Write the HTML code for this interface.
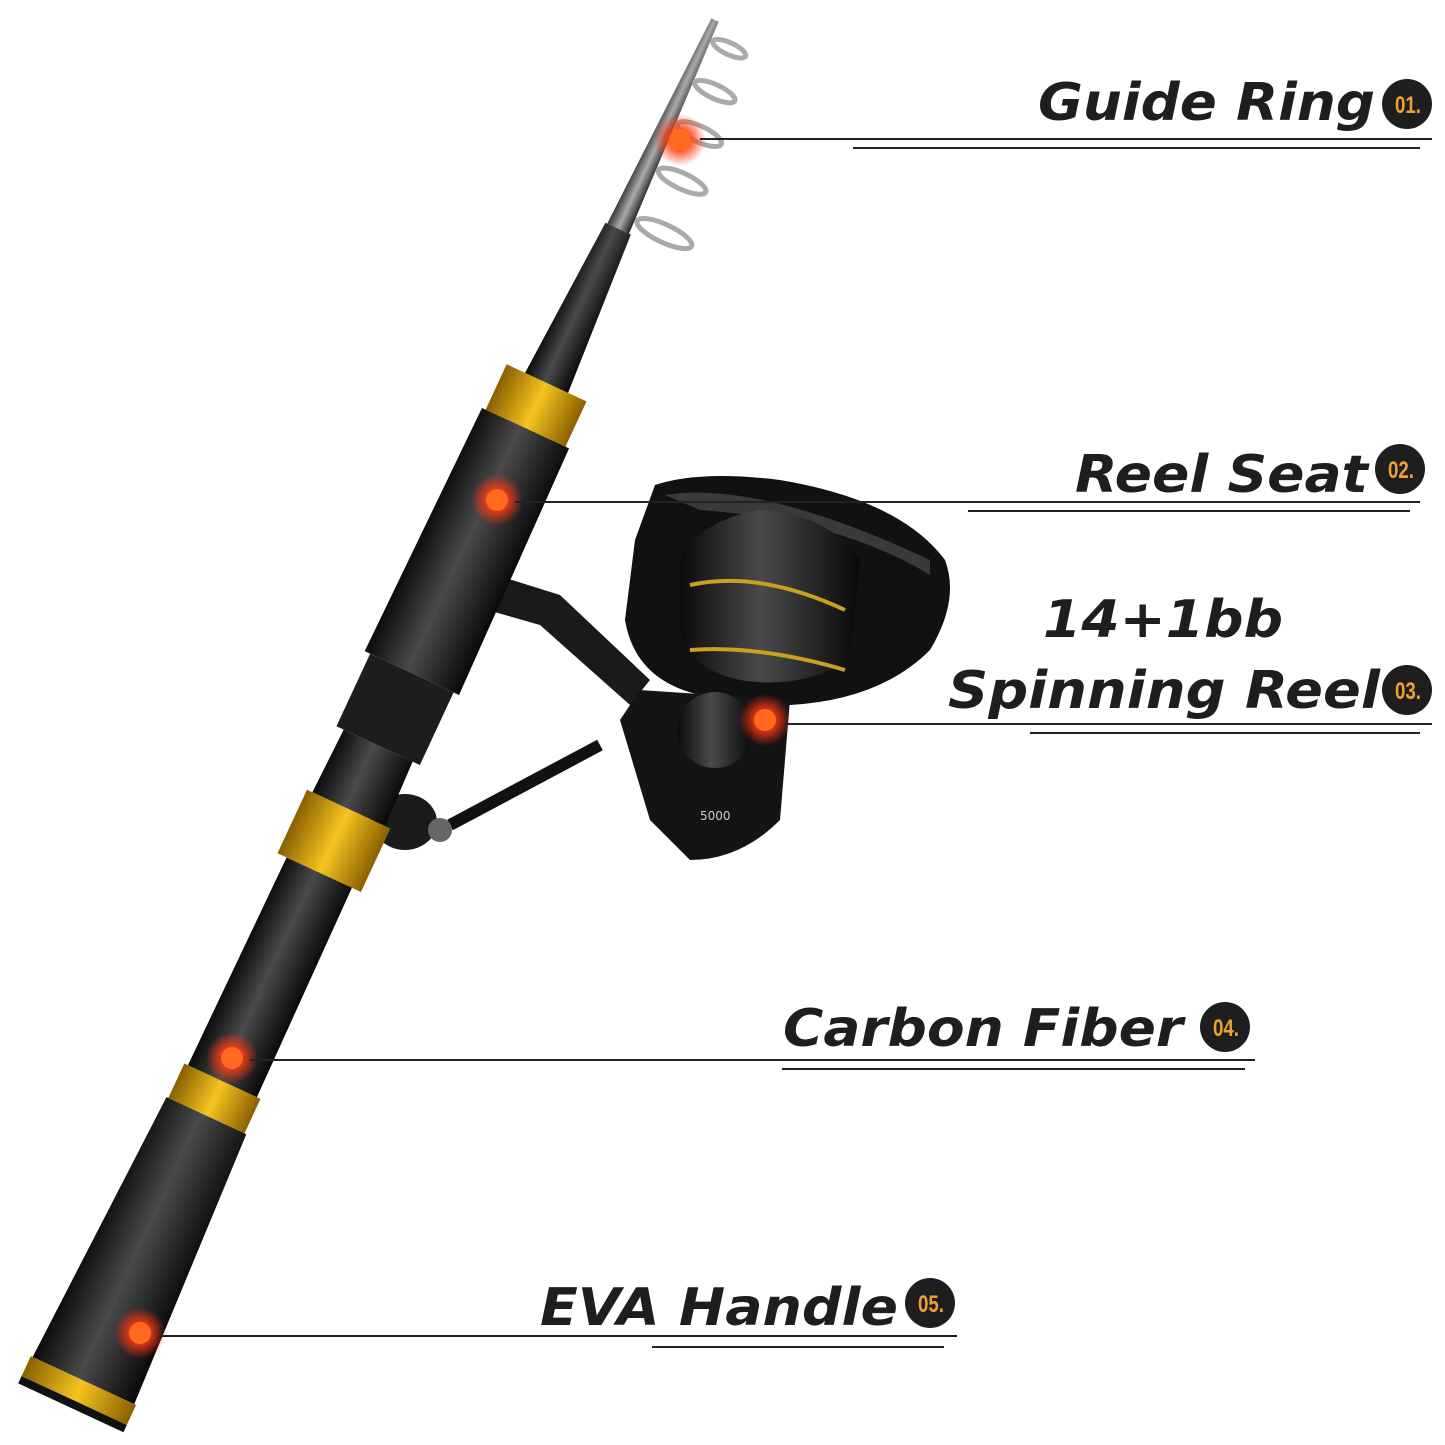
<!DOCTYPE html><html><head><style>
html,body{margin:0;padding:0;background:#fff}
svg{display:block}
text{font-family:"DejaVu Sans","Liberation Sans",sans-serif}
.l{font-size:52px;font-weight:bold;font-style:italic;fill:#1e1e1e}
.b{font-size:24px;font-weight:bold;fill:#f0a030;font-family:"Liberation Sans",sans-serif}
</style></head><body>
<svg width="1445" height="1445" viewBox="0 0 1445 1445">
<defs>
<radialGradient id="g"><stop offset="0" stop-color="#ff5a10"/><stop offset=".45" stop-color="#ff3a10" stop-opacity=".8"/><stop offset="1" stop-color="#ff3010" stop-opacity="0"/></radialGradient>
<linearGradient id="gold" x1="0" x2="1"><stop offset="0" stop-color="#8a6000"/><stop offset=".5" stop-color="#f5c420"/><stop offset="1" stop-color="#8a6000"/></linearGradient>
<linearGradient id="blk" x1="0" x2="1"><stop offset="0" stop-color="#0a0a0a"/><stop offset=".45" stop-color="#4a4a4a"/><stop offset="1" stop-color="#080808"/></linearGradient>
<linearGradient id="gry" x1="0" x2="1"><stop offset="0" stop-color="#333"/><stop offset=".5" stop-color="#aaa"/><stop offset="1" stop-color="#222"/></linearGradient>
</defs>
<!-- reel -->
<g>
<path d="M480 570 L560 595 L650 680 L630 705 L540 625 L470 605Z" fill="#1a1a1a"/>
<path d="M655 485 Q700 470 780 480 Q900 500 945 560 Q960 600 930 650 Q880 700 790 705 L700 695 Q635 680 625 620 L635 540Z" fill="#111"/>
<path d="M665 495 Q760 480 930 560 L930 575 Q840 520 700 510Z" fill="#3a3a3a"/>
<path d="M680 560 Q700 520 760 510 Q830 515 860 560 L850 660 Q800 690 740 680 Q690 670 680 630Z" fill="url(#blk)"/>
<path d="M690 585 Q760 570 845 610" stroke="#c9a020" stroke-width="4" fill="none"/>
<path d="M690 650 Q760 645 845 670" stroke="#c9a020" stroke-width="4" fill="none"/>
<path d="M640 690 L790 700 L780 820 Q740 860 690 860 L650 820 L620 720Z" fill="#141414"/>
<circle cx="715" cy="730" r="38" fill="url(#blk)"/>
<path d="M600 745 L450 825" stroke="#111" stroke-width="12"/>
<ellipse cx="405" cy="822" rx="32" ry="28" fill="#1b1b1b"/>
<circle cx="440" cy="830" r="12" fill="#666"/>
<text x="700" y="820" font-size="12" fill="#ccc">5000</text>
</g>
<!-- rod -->
<g transform="translate(715,20) rotate(24.9)">
<polygon points="-4,0 4,0 12,230 -12,230" fill="url(#gry)"/>
<g fill="none" stroke="#aaa" stroke-width="5">
<ellipse cx="25" cy="20" rx="18" ry="6"/><ellipse cx="30" cy="65" rx="22" ry="7"/><ellipse cx="34" cy="110" rx="24" ry="8"/><ellipse cx="38" cy="160" rx="26" ry="8"/><ellipse cx="44" cy="215" rx="30" ry="9"/>
</g>
<polygon points="-14,230 14,230 24,405 -24,405" fill="url(#blk)"/>
<rect x="-44" y="400" width="88" height="50" fill="url(#gold)"/>
<polygon points="-48,450 48,450 52,720 -52,720" fill="url(#blk)"/>
<rect x="-46" y="720" width="92" height="80" fill="#1d1d1d"/>
<polygon points="-38,800 38,800 40,870 -40,870" fill="url(#blk)"/>
<rect x="-46" y="870" width="92" height="70" fill="url(#gold)"/>
<polygon points="-36,940 36,940 38,1170 -38,1170" fill="url(#blk)"/>
<rect x="-42" y="1170" width="84" height="38" fill="url(#gold)"/>
<polygon points="-44,1208 44,1208 56,1500 -56,1500" fill="url(#blk)"/>
<rect x="-58" y="1500" width="116" height="22" fill="url(#gold)"/>
<rect x="-58" y="1522" width="116" height="8" fill="#111"/>
</g>
<!-- dots -->
<g>
<circle cx="680" cy="140" r="26" fill="url(#g)"/><circle cx="680" cy="140" r="11" fill="#ff6a20"/>
<circle cx="497" cy="500" r="26" fill="url(#g)"/><circle cx="497" cy="500" r="11" fill="#ff6a20"/>
<circle cx="765" cy="720" r="26" fill="url(#g)"/><circle cx="765" cy="720" r="11" fill="#ff6a20"/>
<circle cx="232" cy="1058" r="26" fill="url(#g)"/><circle cx="232" cy="1058" r="11" fill="#ff6a20"/>
<circle cx="140" cy="1333" r="26" fill="url(#g)"/><circle cx="140" cy="1333" r="11" fill="#ff6a20"/>
</g>
<!-- lines -->
<g stroke="#222" stroke-width="2">
<line x1="700" y1="139" x2="1432" y2="139"/><line x1="853" y1="148" x2="1420" y2="148"/>
<line x1="515" y1="502" x2="1420" y2="502"/><line x1="968" y1="511" x2="1410" y2="511"/>
<line x1="785" y1="724" x2="1432" y2="724"/><line x1="1030" y1="733" x2="1420" y2="733"/>
<line x1="250" y1="1060" x2="1255" y2="1060"/><line x1="782" y1="1069" x2="1245" y2="1069"/>
<line x1="160" y1="1336" x2="957" y2="1336"/><line x1="652" y1="1347" x2="944" y2="1347"/>
</g>
<!-- labels -->
<text class="l" x="1038" y="120" textLength="337" lengthAdjust="spacingAndGlyphs">Guide Ring</text>
<circle cx="1407" cy="104" r="25" fill="#1e1e1e"/><text class="b" x="1395" y="113" textLength="26" lengthAdjust="spacingAndGlyphs">01.</text>
<text class="l" x="1075" y="492" textLength="293" lengthAdjust="spacingAndGlyphs">Reel Seat</text>
<circle cx="1400" cy="469" r="25" fill="#1e1e1e"/><text class="b" x="1388" y="478" textLength="26" lengthAdjust="spacingAndGlyphs">02.</text>
<text class="l" x="1043" y="637" textLength="240" lengthAdjust="spacingAndGlyphs">14+1bb</text>
<text class="l" x="948" y="708" textLength="432" lengthAdjust="spacingAndGlyphs">Spinning Reel</text>
<circle cx="1407" cy="690" r="25" fill="#1e1e1e"/><text class="b" x="1395" y="699" textLength="26" lengthAdjust="spacingAndGlyphs">03.</text>
<text class="l" x="783" y="1046" textLength="400" lengthAdjust="spacingAndGlyphs">Carbon Fiber</text>
<circle cx="1225" cy="1027" r="25" fill="#1e1e1e"/><text class="b" x="1213" y="1036" textLength="26" lengthAdjust="spacingAndGlyphs">04.</text>
<text class="l" x="540" y="1325" textLength="358" lengthAdjust="spacingAndGlyphs">EVA Handle</text>
<circle cx="930" cy="1303" r="25" fill="#1e1e1e"/><text class="b" x="918" y="1312" textLength="26" lengthAdjust="spacingAndGlyphs">05.</text>
</svg>
</body></html>
